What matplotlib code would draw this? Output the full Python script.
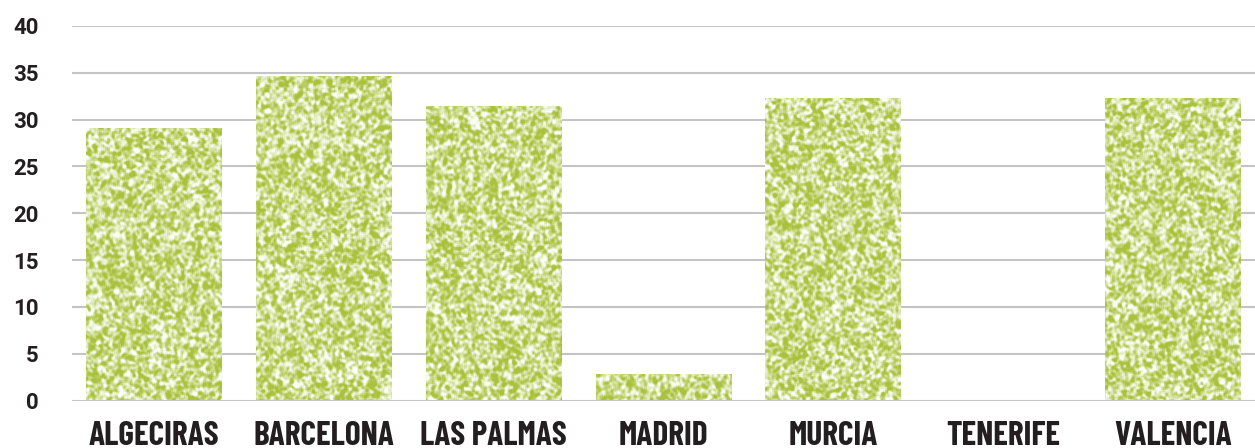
import numpy as np
import matplotlib
matplotlib.use("Agg")
import matplotlib.pyplot as plt
from matplotlib.colors import LinearSegmentedColormap

# data
cities = ["ALGECIRAS", "BARCELONA", "LAS PALMAS", "MADRID", "MURCIA", "TENERIFE", "VALENCIA"]
values = [29.0, 34.5, 31.3, 2.7, 32.2, 0.0, 32.2]
yticks = [0, 5, 10, 15, 20, 25, 30, 35, 40]

GRID = "#c4c4c4"
TEXT = "#231f20"
speckle = LinearSegmentedColormap.from_list(
    "speckle", ["#fdfdf8", "#e4edc2", "#c3d577", "#a9c13c"])


def noise_tile(h, w, rng):
    # speckled paper-like texture: light blur over white noise
    a = rng.random((h + 4, w + 4))
    k = np.array([1, 2, 3, 2, 1], float)
    k /= k.sum()
    a = np.apply_along_axis(lambda r: np.convolve(r, k, mode="valid"), 1, a)
    a = np.apply_along_axis(lambda c: np.convolve(c, k, mode="valid"), 0, a)
    a = (a - a.mean()) / a.std()
    return np.clip(0.58 + a * 0.3, 0, 1)


fig = plt.figure(figsize=(12.55, 4.48), dpi=100)
ax = fig.add_axes([72 / 1255, 47.5 / 448, 1 - 72 / 1255, 374.5 / 448])

x = np.arange(len(cities))
bars = ax.bar(x, values, width=0.8, color="#b4cb55", zorder=2)

rng = np.random.default_rng(3)
for b, v in zip(bars, values):
    if v <= 0:
        continue
    x0, w = b.get_x(), b.get_width()
    hpx = max(int(v * 9.36), 8)
    tile = noise_tile(hpx, 136, rng)
    ax.imshow(tile, cmap=speckle, vmin=0, vmax=1, aspect="auto",
              extent=(x0, x0 + w, 0, v), zorder=3, interpolation="bilinear")
    b.set_visible(False)

ax.set_xlim(-0.48, 6.48)
ax.set_ylim(0, 40)
ax.set_yticks(yticks)
ax.yaxis.grid(True, color=GRID, lw=1.5, zorder=0)
ax.set_axisbelow(True)
for s in ax.spines.values():
    s.set_visible(False)

ax.tick_params(axis="both", length=0)
ax.tick_params(axis="y", pad=24)
ax.set_yticklabels([str(t) for t in yticks], fontsize=16, color=TEXT,
                   family="Roboto", fontweight="bold")
ax.set_xticks(x)
ax.set_xticklabels(cities, fontsize=24, color=TEXT,
                   family="Barlow Condensed", fontweight="bold")
ax.tick_params(axis="x", pad=15)

fig.savefig("out.png", dpi=100)
